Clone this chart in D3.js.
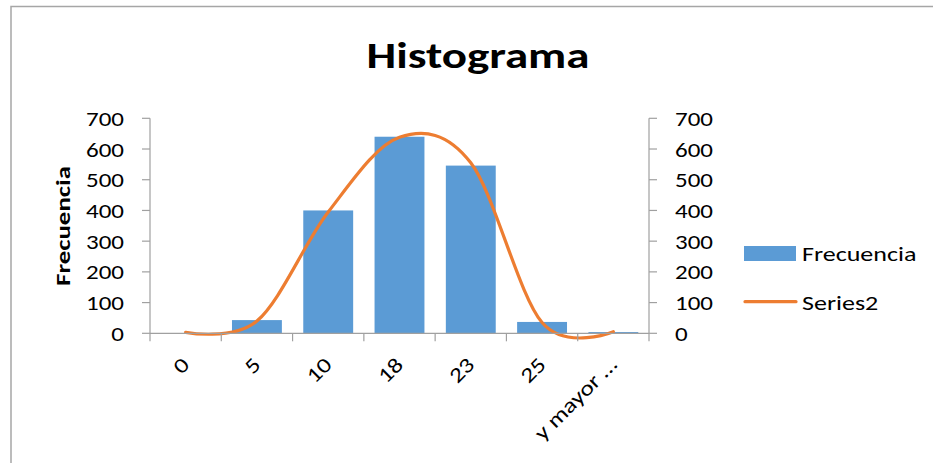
<!DOCTYPE html>
<html><head><meta charset="utf-8">
<script src="https://cdn.jsdelivr.net/npm/d3@7"></script>
<style>body{margin:0;background:#fff}svg{display:block}text{font-family:Carlito,Lato,"Liberation Sans",sans-serif}</style>
</head><body><svg id="c" width="933" height="463"></svg>
<script>
const categories = ["0","5","10","18","23","25","y mayor …"];
const frecuencia = [0, 43, 400, 640, 546, 37, 4];
const series2 = [3, 40, 395, 638, 555, 35, 5];
const yTicks = [0,100,200,300,400,500,600,700];
const title = "Histograma";
const yTitle = "Frecuencia";
const legendNames = ["Frecuencia","Series2"];

const svg = d3.select("#c");
const W = 933, H = 463;
const L = 150, R = 649, T = 118.3, B = 333.3;
const axisColor = "#a0a0a0", blue = "#5B9BD5", orange = "#ED7D31";

function txt(g, x, y, rot, sx, size, weight, anchor, s) {
  return g.append("text")
    .attr("transform", `translate(${x},${y}) rotate(${rot}) scale(${sx},1)`)
    .attr("text-anchor", anchor).attr("font-size", size).attr("font-weight", weight)
    .attr("fill", "#000").text(s);
}

// chart border
svg.append("path").attr("d", `M11,${H} L11,6.5 L${W},6.5`).attr("fill","none").attr("stroke","#a6a6a6").attr("stroke-width",1.5);

const x = d3.scaleBand().domain(categories).range([L,R]).paddingInner(0.3).paddingOuter(0.15);
const y = d3.scaleLinear().domain([0,700]).range([B,T]);

// bars
svg.append("g").selectAll("rect").data(frecuencia).join("rect")
  .attr("x",(d,i)=>x(categories[i])).attr("width",x.bandwidth())
  .attr("y",d=>y(d)).attr("height",d=>B-y(d)).attr("fill",blue);

// line
const line = d3.line().x((d,i)=>x(categories[i])+x.bandwidth()/2).y(d=>y(d)).curve(d3.curveCardinal.tension(0));
svg.append("path").datum(series2).attr("d",line).attr("fill","none").attr("stroke",orange).attr("stroke-width",3.2).attr("stroke-linecap","round");

// axes lines
const ag = svg.append("g").attr("stroke",axisColor).attr("stroke-width",1.2).attr("fill","none");
ag.append("line").attr("x1",L).attr("x2",R).attr("y1",B).attr("y2",B);
ag.append("line").attr("x1",L).attr("x2",L).attr("y1",T).attr("y2",B);
ag.append("line").attr("x1",R).attr("x2",R).attr("y1",T).attr("y2",B);
yTicks.forEach(t=>{
  ag.append("line").attr("x1",L-8).attr("x2",L).attr("y1",y(t)).attr("y2",y(t));
  ag.append("line").attr("x1",R).attr("x2",R+8).attr("y1",y(t)).attr("y2",y(t));
});
d3.range(categories.length+1).forEach(i=>{
  const xx = L + i*(R-L)/categories.length;
  ag.append("line").attr("x1",xx).attr("x2",xx).attr("y1",B).attr("y2",B+8);
});

const tg = svg.append("g");
const fs = 21;
// y labels
yTicks.forEach(t=>{
  txt(tg, 124, y(t)+7.5, 0, 1.19, fs, "normal", "end", t);
  txt(tg, 675, y(t)+7.5, 0, 1.19, fs, "normal", "start", t);
});
// x labels
categories.forEach(c=>{
  txt(tg, x(c)+x.bandwidth()/2+5, 366, -45, 1.22, fs, "normal", "end", c);
});
// title
txt(tg, 478, 68.3, 0, 1.27, 37, "bold", "middle", title);
// y title
txt(tg, 70, 226, -90, 1.28, 21, "bold", "middle", yTitle);

// legend
svg.append("rect").attr("x",744).attr("y",246).attr("width",52).attr("height",15).attr("fill",blue);
txt(tg, 802, 261, 0, 1.24, 21, "normal", "start", legendNames[0]);
svg.append("line").attr("x1",745).attr("x2",796).attr("y1",301.7).attr("y2",301.7).attr("stroke",orange).attr("stroke-width",3.2).attr("stroke-linecap","round");
txt(tg, 802, 310, 0, 1.24, 21, "normal", "start", legendNames[1]);
</script></body></html>
